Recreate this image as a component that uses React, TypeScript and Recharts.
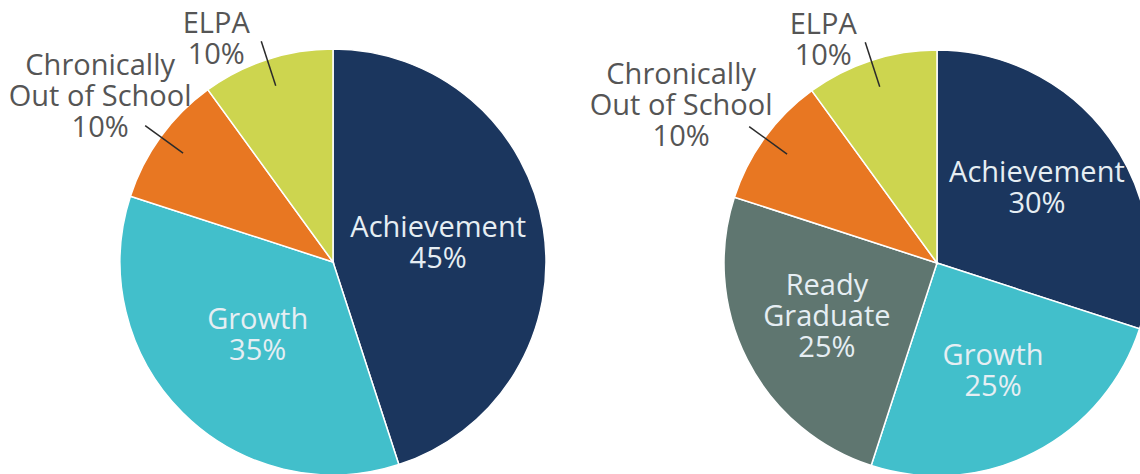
import { PieChart, Pie, Cell } from 'recharts'

// left pie: current model
const leftNames = ['Achievement', 'Growth', 'Chronically\nOut of School', 'ELPA']
const leftValues = [45, 35, 10, 10]

// right pie: with ready graduate
const rightNames = ['Achievement', 'Growth', 'Ready\nGraduate', 'Chronically\nOut of School', 'ELPA']
const rightValues = [30, 25, 25, 10, 10]

const COLORS: Record<string, string> = {
  Achievement: '#1b365e',
  Growth: '#42bfcb',
  'Ready\nGraduate': '#5f7670',
  'Chronically\nOut of School': '#e87722',
  ELPA: '#cdd54f',
}

const FONT = '"Open Sans", sans-serif'
const FONT_SIZE = 29
const LINE_H = 31
const RADIAN = Math.PI / 180

const leftData = leftNames.map((name, i) => ({ name, value: leftValues[i] }))
const rightData = rightNames.map((name, i) => ({ name, value: rightValues[i] }))

type Shift = Record<string, [number, number]>

function makeLabel(innerFrac: number, callout: Shift) {
  return function renderLabel(props: any) {
    const { cx, cy, midAngle, outerRadius, name, value } = props
    const lines = [...String(name).split('\n'), `${value}%`]
    const cos = Math.cos(-midAngle * RADIAN)
    const sin = Math.sin(-midAngle * RADIAN)

    if (value > 10) {
      const x = cx + outerRadius * innerFrac * cos
      const y = cy + outerRadius * innerFrac * sin - 3
      const top = y - ((lines.length - 1) * LINE_H) / 2
      return (
        <text x={x} textAnchor="middle" fill="#e6eef3" fontFamily={FONT} fontSize={FONT_SIZE}>
          {lines.map((l, i) => (
            <tspan key={i} x={x} y={top + i * LINE_H + 10}>
              {l}
            </tspan>
          ))}
        </text>
      )
    }

    // small slices: leader line out of the pie, text to its upper left
    const x1 = cx + outerRadius * 0.87 * cos
    const y1 = cy + outerRadius * 0.87 * sin
    const x2 = cx + outerRadius * 1.09 * cos
    const y2 = cy + outerRadius * 1.09 * sin
    const [dx, dy] = callout[name] ?? [-45, 0]
    const tx = x2 + dx
    const lastY = y2 + 9 + dy
    return (
      <g>
        <line x1={x1} y1={y1} x2={x2} y2={y2} stroke="#2b2b2b" strokeWidth={1.5} />
        <text x={tx} textAnchor="middle" fill="#555555" fontFamily={FONT} fontSize={FONT_SIZE}>
          {lines.map((l, i) => (
            <tspan key={i} x={tx} y={lastY - (lines.length - 1 - i) * LINE_H + 10}>
              {l}
            </tspan>
          ))}
        </text>
      </g>
    )
  }
}

export default function App() {
  return (
    <div style={{ position: 'absolute', left: 0, top: 0, background: '#fff' }}>
      <PieChart width={1140} height={474} margin={{ top: 0, right: 0, bottom: 0, left: 0 }}>
        <Pie
          data={leftData}
          dataKey="value"
          nameKey="name"
          cx={333}
          cy={262}
          outerRadius={213}
          startAngle={90}
          endAngle={-270}
          stroke="#ffffff"
          strokeWidth={1.5}
          labelLine={false}
          label={makeLabel(0.5, { 'Chronically\nOut of School': [-45, -8], ELPA: [-45, 4] })}
          isAnimationActive={false}
        >
          {leftData.map((d) => (
            <Cell key={d.name} fill={COLORS[d.name]} />
          ))}
        </Pie>
        <Pie
          data={rightData}
          dataKey="value"
          nameKey="name"
          cx={937}
          cy={263}
          outerRadius={213}
          startAngle={90}
          endAngle={-270}
          stroke="#ffffff"
          strokeWidth={1.5}
          labelLine={false}
          label={makeLabel(0.58, { 'Chronically\nOut of School': [-68, 0], ELPA: [-42, 4] })}
          isAnimationActive={false}
        >
          {rightData.map((d) => (
            <Cell key={d.name} fill={COLORS[d.name]} />
          ))}
        </Pie>
      </PieChart>
    </div>
  )
}
